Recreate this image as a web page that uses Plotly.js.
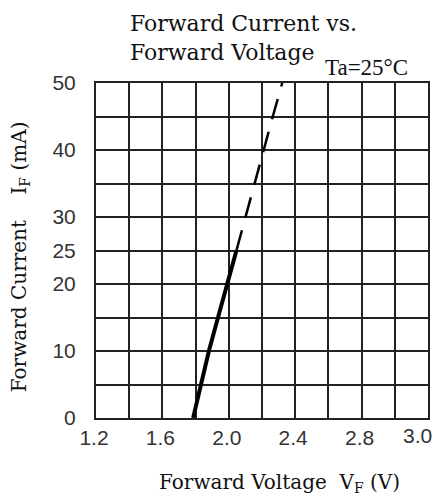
<!DOCTYPE html>
<html>
<head>
<meta charset="utf-8">
<script src="https://cdn.plot.ly/plotly-3.0.1.min.js"></script>
<style>html,body{margin:0;padding:0;background:#fff;}#chart{width:436px;height:497px;}</style>
</head>
<body>
<div id="chart"></div>
<script>
// Forward current (mA) vs forward voltage (V)
const solidVoltage = [1.785, 1.83, 1.88, 1.935, 1.99, 2.046];
const solidCurrent = [0, 5, 10, 15, 20, 25];
const dashVoltage = [2.046, 2.10, 2.158, 2.21, 2.265, 2.322];
const dashCurrent = [25, 30, 35, 40, 45, 50];

// Axis tick labels as printed on the chart
const xTickVals = [1.2, 1.6, 2.0, 2.4, 2.8, 3.2];
const xTickText = ["1.2", "1.6", "2.0", "2.4", "2.8", "3.0"];
const yTickVals = [0, 10, 20, 25, 30, 40, 50];
const yTickText = ["0", "10", "20", "25", "30", "40", "50"];

const lineColor = '#222';
const tickFont = {family: 'Liberation Sans', size: 21, color: '#333'};
const nX = xTickVals.length;

const traces = [
  {x: solidVoltage, y: solidCurrent, type: 'scatter', mode: 'lines',
   line: {color: '#000', width: 4}, hoverinfo: 'skip'},
  {x: dashVoltage, y: dashCurrent, type: 'scatter', mode: 'lines',
   line: {color: '#000', width: 2.5, dash: '21px,13px'}, hoverinfo: 'skip'}
];

const layout = {
  width: 436, height: 497,
  margin: {l: 96, r: 8, t: 83, b: 79},
  paper_bgcolor: '#fff', plot_bgcolor: '#fff',
  showlegend: false,
  title: {
    text: 'Forward Current vs.<br>Forward Voltage',
    font: {family: 'DejaVu Serif', size: 22, color: '#111'},
    xref: 'container', x: 0.298, xanchor: 'left',
    yref: 'container', y: 0.937, yanchor: 'top'
  },
  xaxis: {
    range: [1.1999, 3.2001],
    tickmode: 'array', tickvals: xTickVals.slice(0, nX - 1), ticktext: xTickText.slice(0, nX - 1),
    showgrid: true, gridcolor: lineColor, gridwidth: 2,
    minor: {tickmode: 'linear', tick0: 1.2, dtick: 0.2, showgrid: true,
            gridcolor: lineColor, gridwidth: 2, ticks: ''},
    showline: true, linecolor: lineColor, linewidth: 2, mirror: true,
    zeroline: false, ticks: '', ticklabelstandoff: 0, ticklabelshift: -2,
    ticklabeloverflow: 'allow',
    tickfont: tickFont,
    fixedrange: true
  },
  yaxis: {
    range: [0, 50],
    tickmode: 'array', tickvals: yTickVals, ticktext: yTickText,
    showgrid: true, gridcolor: lineColor, gridwidth: 2,
    minor: {tickmode: 'linear', tick0: 0, dtick: 5, showgrid: true,
            gridcolor: lineColor, gridwidth: 2, ticks: ''},
    showline: true, linecolor: lineColor, linewidth: 2, mirror: true,
    zeroline: false, ticks: '', ticklabelstandoff: 14,
    ticklabeloverflow: 'allow',
    tickfont: tickFont,
    fixedrange: true
  },
  annotations: [
    // last x tick label, kept inside the page edge
    {text: xTickText[nX - 1], xref: 'x', yref: 'paper', x: xTickVals[nX - 1], y: 0,
     xanchor: 'right', yanchor: 'top', xshift: 6, yshift: -4, showarrow: false,
     font: tickFont},
    {text: 'Ta=25°C', xref: 'paper', yref: 'paper', x: 0.946, y: 1,
     xanchor: 'right', yanchor: 'bottom', yshift: 1, showarrow: false,
     font: {family: 'Liberation Serif', size: 23, color: '#111'}},
    {text: 'Forward Voltage  V<sub>F</sub> (V)', xref: 'paper', yref: 'paper',
     x: 0.554, y: 0, xanchor: 'center', yanchor: 'top', yshift: -50,
     showarrow: false,
     font: {family: 'DejaVu Serif', size: 20, color: '#111'}},
    {text: 'Forward Current    I<sub>F</sub> (mA)', xref: 'paper', yref: 'paper',
     x: 0, y: 0.48, xanchor: 'center', yanchor: 'middle', xshift: -76,
     textangle: -90, showarrow: false,
     font: {family: 'DejaVu Serif', size: 20, color: '#111'}}
  ]
};

Plotly.newPlot('chart', traces, layout, {displayModeBar: false, staticPlot: true});
</script>
</body>
</html>
